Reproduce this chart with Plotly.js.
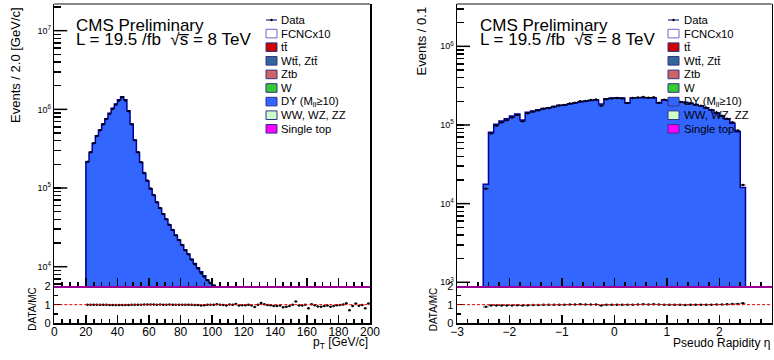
<!DOCTYPE html>
<html><head><meta charset="utf-8">
<script src="https://cdn.plot.ly/plotly-3.0.1.min.js"></script>
<style>body{margin:0;background:#fff}#chart{width:774px;height:360px}</style>
</head><body><div id="chart"></div>
<script>
// ---------- data ----------
const ptFirstEdge = 20, ptBinWidth = 2;
const ptMC = [2.16e5, 2.85e5, 3.71e5, 4.63e5, 5.47e5, 6.52e5, 7.61e5, 8.91e5, 1.03e6, 1.17e6,
  1.32e6, 1.45e6, 1.32e6, 9.62e5, 6.52e5, 4.08e5, 2.85e5, 2.12e5, 1.54e5, 1.23e5,
  9.8e4, 8.09e4, 6.59e4, 5.53e4, 4.68e4, 4.01e4, 3.39e4, 2.93e4, 2.51e4, 2.18e4,
  1.89e4, 1.63e4, 1.44e4, 1.24e4, 1.10e4, 9.7e3, 8.6e3, 7.7e3, 6.8e3, 6.2e3, 5.8e3];
const ptRatio = [1.00, 1.00, 1.00, 0.99, 0.99, 0.99, 0.99, 0.98, 0.98, 0.98,
  0.98, 0.98, 0.98, 0.98, 0.99, 0.99, 1.00, 1.00, 1.01, 1.01,
  1.01, 1.01, 1.00, 1.01, 1.00, 1.00, 1.01, 1.00, 1.00, 1.00,
  1.00, 0.99, 1.00, 0.99, 0.98, 0.98, 0.96, 0.97, 0.99, 1.00,
  0.99, 1.02, 1.00, 0.98, 0.96, 1.01, 0.99, 1.03, 0.95, 0.97,
  0.97, 0.99, 0.96, 0.87, 1.00, 1.09, 1.02, 0.98, 0.97, 0.93,
  0.93, 0.96, 0.86, 0.88, 0.92, 1.00, 1.17, 0.96, 0.95, 1.00,
  0.80, 1.02, 0.97, 0.90, 0.89, 0.92, 0.95, 0.89, 0.93, 0.97,
  0.98, 1.01, 1.07, 0.69, 0.93, 1.06, 0.94, 0.98, 0.80, 1.06];
const etaFirstEdge = -2.5, etaBinWidth = 0.1;
const etaMC = [1.76e4, 8.1e4, 1.02e5, 1.12e5, 1.2e5, 1.3e5, 1.38e5, 1.16e5, 1.45e5, 1.5e5,
  1.56e5, 1.62e5, 1.66e5, 1.72e5, 1.78e5, 1.8e5, 1.85e5, 1.9e5, 1.96e5, 2.0e5,
  2.05e5, 2.08e5, 1.85e5, 2.15e5, 2.2e5, 2.22e5, 2.2e5, 1.9e5, 2.2e5, 2.22e5,
  2.22e5, 2.2e5, 2.2e5, 1.9e5, 2.1e5, 2.05e5, 2.0e5, 1.98e5, 1.95e5, 1.9e5,
  1.82e5, 1.75e5, 1.65e5, 1.55e5, 1.42e5, 1.3e5, 1.18e5, 1.05e5, 8.2e4, 1.6e4];
const etaRatio = [0.88, 0.96, 0.96, 0.96, 0.96, 0.96, 0.97, 0.96, 0.97, 0.98,
  0.98, 0.99, 0.99, 0.99, 0.99, 1.00, 1.01, 1.01, 1.02, 1.01,
  1.01, 1.01, 0.95, 0.99, 0.99, 0.99, 0.99, 1.00, 1.00, 1.01,
  1.02, 1.01, 1.02, 1.01, 1.00, 0.99, 0.99, 0.99, 0.98, 0.99,
  0.99, 1.00, 1.00, 1.00, 1.01, 1.01, 1.02, 1.03, 1.04, 1.08];
const legendLabels = ['Data', 'FCNCx10', 'tt\u0304', 'Wtt\u0304, Ztt\u0304',
  'Ztb', 'W', 'DY (M<sub>ll</sub>\u226510)', 'WW, WZ, ZZ', 'Single top'];
const legendFill = [null, '#ffffff', '#cc0000', '#336699', '#cc6666', '#33cc33', '#3366ff', '#ccffcc', '#ff00ff'];
const legendBorder = [null, '#6666cc', '#333388', '#333388', '#333388', '#333388', '#333388', '#333388', '#333388'];

// ---------- helpers ----------
const W = 774, H = 360;
const P = x => x / W, Q = y => 1 - y / H;
const centers = (first, w, n) => Array.from({length: n}, (_, i) => first + w * (i + 0.5));
function outline(first, w, vals, floor) {
  const xs = [first], ys = [floor];
  vals.forEach((v, i) => { xs.push(first + i * w, first + (i + 1) * w); ys.push(v, v); });
  xs.push(first + vals.length * w); ys.push(floor);
  return {xs, ys};
}

const traces = [];
const shapes = [];
const annotations = [];
const font = 'Liberation Sans, Arial, sans-serif';

function panel(ax, first, w, mc, ratio) {
  const xm = 'x' + ax[0], ym = 'y' + ax[0], xr = 'x' + ax[1], yr = 'y' + ax[1];
  const c = centers(first, w, mc.length);
  traces.push({type: 'bar', x: c, y: mc, width: w, xaxis: xm, yaxis: ym,
    marker: {color: '#3366ff', line: {width: 0}}, hoverinfo: 'skip'});
  const o = outline(first, w, mc, 1);
  traces.push({type: 'scatter', mode: 'lines', x: o.xs, y: o.ys, xaxis: xm, yaxis: ym,
    line: {color: '#000099', width: 1.5}, hoverinfo: 'skip'});
  traces.push({type: 'scatter', mode: 'markers', x: c, y: mc.map((v, i) => v * ratio[i]), xaxis: xm, yaxis: ym,
    marker: {color: '#000', size: 2.5},
    error_x: {type: 'constant', value: w / 2, color: '#000', thickness: 1, width: 0}});
  const rc = centers(first, w, ratio.length);
  traces.push({type: 'scatter', mode: 'markers', x: rc, y: ratio, xaxis: xr, yaxis: yr,
    marker: {color: '#000', size: 2.5},
    error_x: {type: 'constant', value: w / 2, color: '#000', thickness: 0.8, width: 0}});
}
panel(['', '2'], ptFirstEdge, ptBinWidth, ptMC, ptRatio);
panel(['3', '4'], etaFirstEdge, etaBinWidth, etaMC, etaRatio);

const mainDom = [Q(286.3), Q(4)], ratDom = [Q(323), Q(286.3)];
const leftX = [54.3, 370], rightX = [457, 771.7];
const yLeftRange = [3.751, 7.339], yRightRange = [2.949, 6.538];

// log-axis ticks: every 1..9 x 10^n, labels only on decades; long ticks on decades
function logTicks(range) {
  const vals = [], text = [];
  for (let d = Math.floor(range[0]); d <= Math.ceil(range[1]); d++) {
    for (let k = 1; k <= 9; k++) {
      vals.push(k * Math.pow(10, d));
      text.push(k === 1 ? '10<sup>' + d + '</sup>' : '');
    }
  }
  return {vals, text};
}
function decadeTicks(xpx, range) {
  for (let d = Math.ceil(range[0]); d <= Math.floor(range[1]); d++) {
    const yp = mainDom[0] + (d - range[0]) / (range[1] - range[0]) * (mainDom[1] - mainDom[0]);
    shapes.push({type: 'line', xref: 'paper', yref: 'paper', x0: P(xpx), x1: P(xpx + 13), y0: yp, y1: yp,
      line: {color: '#000', width: 1.5}, layer: 'above'});
  }
}
decadeTicks(leftX[0], yLeftRange);
decadeTicks(rightX[0], yRightRange);

function decorate(xpx, legBox, legText, cmsX, ytitle, ytitleX, ratTitleX, xtitle, xr2, xrange, xtitleX) {
  shapes.push({type: 'line', xref: 'paper', yref: 'paper', x0: P(xpx[0]), x1: P(xpx[1]), y0: Q(4), y1: Q(4),
    line: {color: '#888', width: 2}});
  shapes.push({type: 'line', xref: xr2, yref: 'y' + xr2.slice(1), x0: xrange[0], x1: xrange[1], y0: 1, y1: 1,
    line: {color: '#ee0000', width: 1, dash: '3px,2px'}});
  annotations.push({xref: 'paper', yref: 'paper', x: P(cmsX), y: Q(25.8), xanchor: 'left', yanchor: 'middle',
    text: 'CMS Preliminary', showarrow: false, font: {family: font, size: 17, color: '#000'}});
  annotations.push({xref: 'paper', yref: 'paper', x: P(cmsX), y: Q(39.5), xanchor: 'left', yanchor: 'middle',
    text: 'L = 19.5 /fb  \u221As\u0305 = 8 TeV', showarrow: false, font: {family: font, size: 17, color: '#000'}});
  annotations.push({xref: 'paper', yref: 'paper', x: P(ytitleX), y: Q(5), xanchor: 'center', yanchor: 'top', textangle: -90,
    text: ytitle, showarrow: false, font: {family: font, size: 13, color: '#000'}});
  annotations.push({xref: 'paper', yref: 'paper', x: P(ratTitleX), y: Q(309), xanchor: 'center', yanchor: 'middle', textangle: -90,
    text: 'DATA/MC', showarrow: false, font: {family: font, size: 10, color: '#000'}});
  annotations.push({xref: 'paper', yref: 'paper', x: P(xtitleX), y: Q(343), xanchor: 'right', yanchor: 'middle',
    text: xtitle, showarrow: false, font: {family: font, size: 12, color: '#000'}});
  legendLabels.forEach((lab, i) => {
    const yc = 20 + i * 13.6;
    if (i === 0) {
      shapes.push({type: 'line', xref: 'paper', yref: 'paper', x0: P(legBox), x1: P(legBox + 11), y0: Q(yc), y1: Q(yc),
        line: {color: '#5555aa', width: 1.5}});
      shapes.push({type: 'circle', xref: 'paper', yref: 'paper', x0: P(legBox + 4.3), x1: P(legBox + 6.7), y0: Q(yc + 1.2), y1: Q(yc - 1.2),
        fillcolor: '#000', line: {width: 0}});
    } else {
      shapes.push({type: 'rect', xref: 'paper', yref: 'paper', x0: P(legBox), x1: P(legBox + 11), y0: Q(yc + 4.3), y1: Q(yc - 4.3),
        fillcolor: legendFill[i], line: {color: legendBorder[i], width: 1}});
    }
    annotations.push({xref: 'paper', yref: 'paper', x: P(legText), y: Q(yc), xanchor: 'left', yanchor: 'middle',
      text: lab, showarrow: false, font: {family: font, size: 11.3, color: '#000'}});
  });
}
decorate(leftX, 266, 279, 74, 'Events / 2.0 [GeV/c]', 16, 31.7, 'p<sub>T</sub> [GeV/c]', 'x2', [0, 200], 370);
decorate(rightX, 668, 682, 477.7, 'Events / 0.1', 421, 433.3, 'Pseudo Rapidity \u03b7', 'x4', [-3, 3], 771.7);

function xMain(dom, range, dtick, minorD) {
  return {domain: dom, range: range, showticklabels: false, ticks: 'inside', ticklen: 8, tickwidth: 1.5, tickcolor: '#000',
    dtick: dtick, tick0: 0, minor: {ticks: 'inside', ticklen: 4, tickwidth: 1.5, dtick: minorD, tickcolor: '#000'},
    showline: true, linecolor: '#990099', linewidth: 2, showgrid: false, zeroline: false};
}
function xRat(dom, range, dtick, minorD) {
  return {domain: dom, range: range, ticks: 'inside', ticklen: 8, tickwidth: 1.5, tickcolor: '#000', dtick: dtick, tick0: 0,
    minor: {ticks: 'inside', ticklen: 4, tickwidth: 1.5, dtick: minorD, tickcolor: '#000'},
    tickfont: {family: font, size: 12, color: '#000'}, ticklabelstandoff: -3,
    showline: true, linecolor: '#000', linewidth: 1.5, showgrid: false, zeroline: false};
}
function yMain(range, anchor) {
  const t = logTicks(range);
  return {domain: mainDom, type: 'log', range: range, anchor: anchor, ticks: 'inside', ticklen: 7, tickwidth: 1.5, tickcolor: '#000',
    tickmode: 'array', tickvals: t.vals, ticktext: t.text, tickfont: {family: font, size: 9, color: '#000'},
    showline: true, linecolor: '#000', linewidth: 1.5, mirror: true, showgrid: false, zeroline: false};
}
function yRat(anchor) {
  return {domain: ratDom, range: [0, 2], anchor: anchor, ticks: 'inside', ticklen: 8, tickwidth: 1.5, tickcolor: '#000', dtick: 1,
    minor: {ticks: 'inside', ticklen: 4, tickwidth: 1.5, dtick: 0.5, tickcolor: '#000'},
    tickfont: {family: font, size: 11, color: '#000'},
    showline: true, linecolor: '#000', linewidth: 1.5, mirror: true, showgrid: false, zeroline: false};
}
const ldom = [P(leftX[0]), P(leftX[1])], rdom = [P(rightX[0]), P(rightX[1])];
const layout = {
  width: W, height: H, margin: {l: 0, r: 0, t: 0, b: 0}, showlegend: false,
  paper_bgcolor: '#fff', plot_bgcolor: 'rgba(0,0,0,0)', bargap: 0,
  font: {family: font, color: '#000'},
  xaxis: Object.assign(xMain(ldom, [0, 200], 20, 5), {anchor: 'y'}),
  yaxis: yMain(yLeftRange, 'x'),
  xaxis2: Object.assign(xRat(ldom, [0, 200], 20, 5), {anchor: 'y2'}),
  yaxis2: yRat('x2'),
  xaxis3: Object.assign(xMain(rdom, [-3, 3], 1, 0.2), {anchor: 'y3'}),
  yaxis3: yMain(yRightRange, 'x3'),
  xaxis4: Object.assign(xRat(rdom, [-3, 3], 1, 0.2), {anchor: 'y4'}),
  yaxis4: yRat('x4'),
  shapes: shapes, annotations: annotations
};
Plotly.newPlot('chart', traces, layout, {displayModeBar: false, staticPlot: true});
</script></body></html>
